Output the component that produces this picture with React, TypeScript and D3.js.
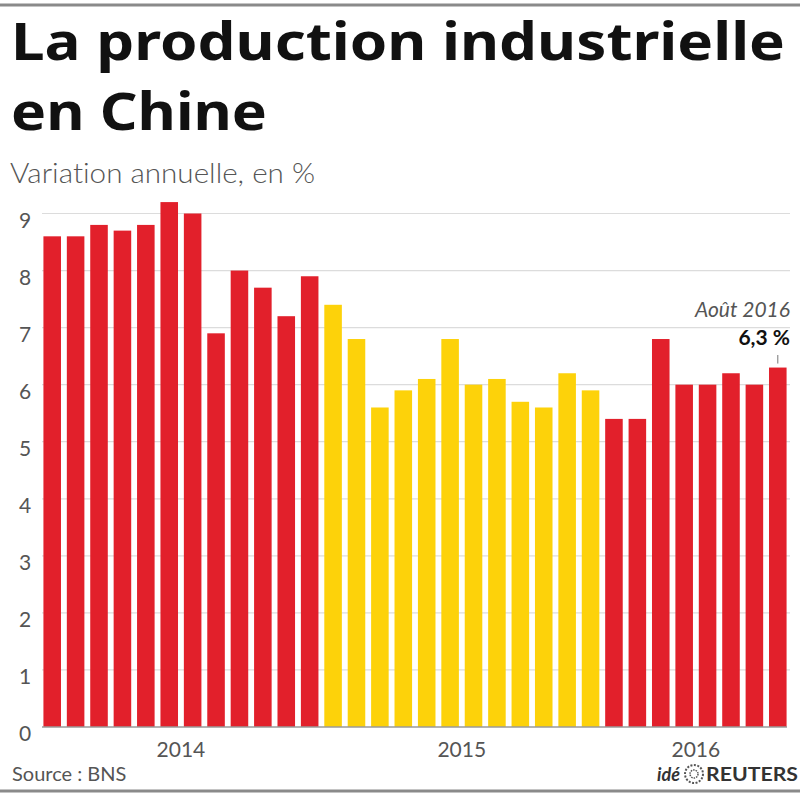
import React from 'react';
import * as d3 from 'd3';

// monthly year-on-year change of industrial output, %
const values2014 = [8.6, 8.6, 8.8, 8.7, 8.8, 9.2, 9.0, 6.9, 8.0, 7.7, 7.2, 7.9];
const values2015 = [7.4, 6.8, 5.6, 5.9, 6.1, 6.8, 6.0, 6.1, 5.7, 5.6, 6.2, 5.9];
const values2016 = [5.4, 5.4, 6.8, 6.0, 6.0, 6.2, 6.0, 6.3];
const years = ['2014', '2015', '2016'];
const yTicks = [0, 1, 2, 3, 4, 5, 6, 7, 8, 9];

const RED = '#e2202b';
const YELLOW = '#fdd20a';

const groups = [values2014, values2015, values2016];
const bars = groups.flatMap((vals, g) =>
  vals.map((v, i) => ({ year: years[g], month: i, value: v, color: g === 1 ? YELLOW : RED }))
);

const App = () => {
  const width = 800;
  const height = 800;
  const baseline = 727;
  const top9 = 213.5;

  const x = d3.scaleBand<number>()
    .domain(d3.range(bars.length))
    .range([40.5, 789.5])
    .paddingInner(0.25)
    .paddingOuter(0.125);
  const y = d3.scaleLinear()
    .domain([0, 9])
    .range([baseline, top9]);

  const last = bars.length - 1;
  const lastX = (x(last) as number) + x.bandwidth() / 2;

  // year label sits under the middle of its group of bars
  let start = 0;
  const yearPos = groups.map((vals, g) => {
    const a = x(start) as number;
    const b = (x(start + vals.length - 1) as number) + x.bandwidth();
    start += vals.length;
    return { label: years[g], cx: (a + b) / 2 };
  });

  const noLig = { fontVariantLigatures: 'none' as const };

  return (
    <svg width={width} height={height} style={{ position: 'absolute', left: 0, top: 0, background: '#fff' }}>
      <rect x={0} y={0} width={width} height={height} fill="#fff" />
      <line x1={0} x2={width} y1={5} y2={5} stroke="#8a8a8a" strokeWidth={3} />
      <line x1={0} x2={width} y1={791} y2={791} stroke="#8a8a8a" strokeWidth={3} />

      <g fontFamily="'Noto Sans', 'Open Sans', sans-serif" style={noLig}>
        <text x={11} y={60} fontSize={52} fontWeight={700} fill="#111" textLength={774} lengthAdjust="spacingAndGlyphs">
          La production industrielle
        </text>
        <text x={11} y={130} fontSize={52} fontWeight={700} fill="#111" textLength={256} lengthAdjust="spacingAndGlyphs">
          en Chine
        </text>
      </g>
      <text x={10} y={183} fontFamily="Lato, 'Noto Sans', sans-serif" fontSize={27} fontWeight={300} fill="#555" textLength={305} lengthAdjust="spacingAndGlyphs" style={noLig}>
        Variation annuelle, en %
      </text>

      {/* grid */}
      <g>
        {yTicks.filter(t => t > 0).map(t => (
          <line key={t} x1={42} x2={790} y1={y(t)} y2={y(t)} stroke="#dcdcdc" strokeWidth={1.2} />
        ))}
      </g>

      {/* bars */}
      <g>
        {bars.map((d, i) => (
          <rect
            key={i}
            x={x(i)}
            y={y(d.value)}
            width={x.bandwidth()}
            height={y(0) - y(d.value)}
            fill={d.color}
          />
        ))}
      </g>

      <line x1={42} x2={787} y1={y(0)} y2={y(0)} stroke="#9a9a9a" strokeWidth={1.5} />

      {/* y labels */}
      <g fontFamily="Lato, 'Noto Sans', sans-serif" fontSize={21} fill="#555" textAnchor="middle">
        {yTicks.map(t => (
          <text key={t} x={25} y={y(t) + 14}>{t}</text>
        ))}
      </g>

      {/* year labels */}
      <g fontFamily="Lato, 'Noto Sans', sans-serif" fontSize={21} fill="#555" textAnchor="middle">
        {yearPos.map(p => (
          <text key={p.label} x={p.cx} y={757}>{p.label}</text>
        ))}
      </g>

      {/* annotation for the last month */}
      <g fontFamily="Lato, 'Noto Sans', sans-serif" textAnchor="end">
        <text x={790} y={317} fontSize={21} fontStyle="italic" fill="#555">Août 2016</text>
        <text x={790} y={345} fontSize={21} fontWeight={700} fill="#111">
          {`${d3.format('.1f')(bars[last].value).replace('.', ',')} %`}
        </text>
      </g>
      <line x1={lastX} x2={lastX} y1={355} y2={y(bars[last].value) - 4} stroke="#777" strokeWidth={1} />

      {/* footer */}
      <text x={12} y={781} fontFamily="Lato, 'Noto Sans', sans-serif" fontSize={20} fill="#555">Source : BNS</text>
      <g fontFamily="Lato, 'Noto Sans', sans-serif" fontSize={18} fontWeight={700} fill="#333">
        <text x={680} y={781} textAnchor="end" fontStyle="italic">idé</text>
        <circle cx={694} cy={774} r={9} fill="none" stroke="#555" strokeWidth={2} strokeDasharray="2 1.5" />
        <circle cx={694} cy={774} r={4} fill="none" stroke="#555" strokeWidth={1.5} strokeDasharray="1.5 1" />
        <text x={798} y={781} textAnchor="end" textLength={92} lengthAdjust="spacingAndGlyphs">REUTERS</text>
      </g>
    </svg>
  );
};

export default App;
